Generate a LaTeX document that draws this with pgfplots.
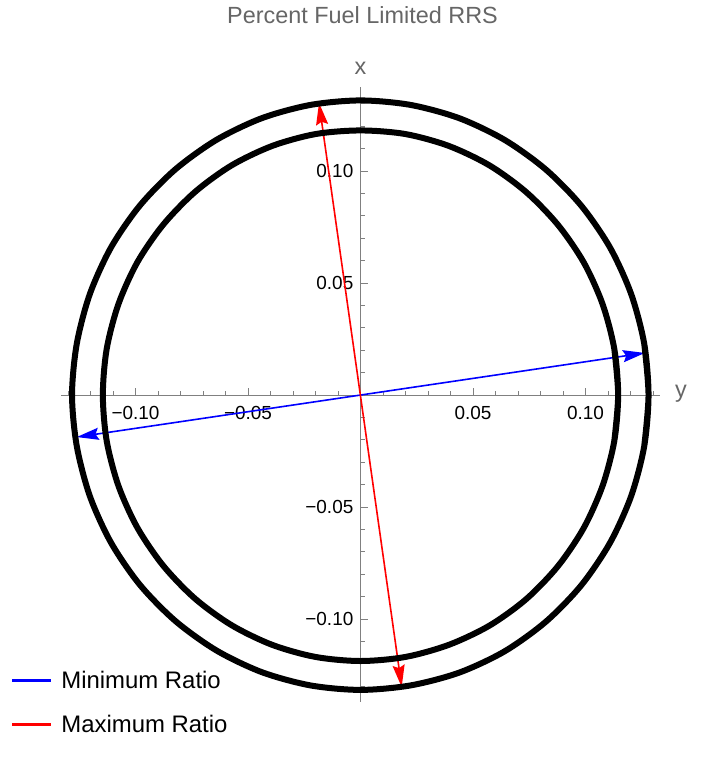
\documentclass[border=0pt]{standalone}
\usepackage{fontspec}
\setmainfont{Liberation Sans}
\usepackage{pgfplots}
\pgfplotsset{compat=1.18}
\usetikzlibrary{arrows.meta}
\definecolor{axgray}{gray}{0.5}
\definecolor{labgray}{gray}{0.4}
\begin{document}
\begin{tikzpicture}
\path (0,0) rectangle (720bp,762bp);
\begin{axis}[
  at={(61bp,60bp)}, anchor=south west,
  scale only axis, width=599bp, height=615bp,
  xmin=-0.1331, xmax=0.1331, ymin=-0.1371, ymax=0.1375,
  axis lines=middle,
  axis line style={axgray, line width=0.8bp, -},
  tick style={axgray, line width=0.8bp},
  tick align=inside,
  major tick length=7bp, minor tick length=4bp,
  xtick={-0.1,-0.05,0.05,0.1}, xticklabels={−0.10,−0.05,0.05,0.10},
  ytick={-0.1,-0.05,0.05,0.1}, yticklabels={−0.10,−0.05,0.05,0.10},
  minor xtick={-0.13,-0.12,-0.11,-0.09,-0.08,-0.07,-0.06,-0.04,-0.03,-0.02,-0.01,0.01,0.02,0.03,0.04,0.06,0.07,0.08,0.09,0.11,0.12,0.13},
  minor ytick={-0.13,-0.12,-0.11,-0.09,-0.08,-0.07,-0.06,-0.04,-0.03,-0.02,-0.01,0.01,0.02,0.03,0.04,0.06,0.07,0.08,0.09,0.11,0.12,0.13},
  ticklabel style={font=\fontsize{19}{22}\selectfont, text=black, inner sep=0pt},
  xticklabel style={anchor=north, yshift=-11bp},
  yticklabel style={anchor=east, xshift=-7bp},
  xlabel={y}, ylabel={x},
  every axis x label/.style={at={(axis cs:0.1331,0)}, anchor=mid west, xshift=15bp, inner sep=0pt, font=\fontsize{23.5}{26}\selectfont, text=labgray},
  every axis y label/.style={at={(axis cs:0,0.1375)}, anchor=base, yshift=12bp, inner sep=0pt, font=\fontsize{23.5}{26}\selectfont, text=labgray},
  title={Percent Fuel Limited RRS},
  every axis title/.style={at={(axis description cs:0.5,1)}, anchor=base, xshift=2bp, yshift=63bp, inner sep=0pt, font=\fontsize{23.5}{26}\selectfont, text=labgray},
  legend style={at={(axis description cs:-0.0818,0.0504)}, anchor=north west, draw=none, fill=none, inner sep=0pt, outer sep=0pt, row sep=25bp, column sep=11bp, nodes={inner sep=0pt}, font=\fontsize{24}{27}\selectfont},
  legend cell align=left,
]
\addplot[blue, line width=1.6bp, {Stealth[length=22bp, width=12bp, inset=3bp]}-{Stealth[length=22bp, width=12bp, inset=3bp]}, forget plot] coordinates {(-0.1261,-0.0188) (0.1264,0.01875)};
\addplot[red, line width=1.6bp, {Stealth[length=22bp, width=12bp, inset=3bp]}-{Stealth[length=22bp, width=12bp, inset=3bp]}, forget plot] coordinates {(0.0183,-0.1304) (-0.01844,0.1304)};
% outer curve
\addplot[black, line width=6bp, line join=round, smooth, forget plot] coordinates {
(0.1261,-0.0228) (0.1280,0) (0.1261,0.0228) (0.1203,0.0450) (0.1109,0.0658) (0.0981,0.0845) (0.0823,0.1007) (0.0640,0.1139) (0.0438,0.1236) (0.0222,0.1295) (0,0.1315)
(-0.0222,0.1295) (-0.0438,0.1236) (-0.0640,0.1139) (-0.0823,0.1007) (-0.0981,0.0845) (-0.1109,0.0658) (-0.1203,0.0450) (-0.1261,0.0228) (-0.1282,0)
(-0.1261,-0.0228) (-0.1203,-0.0451) (-0.1109,-0.0659) (-0.0981,-0.0847) (-0.0823,-0.1009) (-0.0640,-0.1141) (-0.0438,-0.1238) (-0.0222,-0.1297) (0,-0.1317)
(0.0222,-0.1297) (0.0438,-0.1240) (0.0640,-0.1145) (0.0823,-0.1013) (0.0981,-0.0850) (0.1109,-0.0660) (0.1203,-0.0451) (0.1261,-0.0228) (0.1280,0) (0.1261,0.0228)
};
% inner curve
\addplot[black, line width=6bp, line join=round, smooth, forget plot] coordinates {
(0.1128,-0.0205) (0.1145,0) (0.1128,0.0205) (0.1076,0.0405) (0.0992,0.0592) (0.0877,0.0760) (0.0736,0.0906) (0.0573,0.1025) (0.0392,0.1112) (0.0199,0.1165) (0,0.1181)
(-0.0199,0.1165) (-0.0392,0.1112) (-0.0573,0.1025) (-0.0736,0.0906) (-0.0877,0.0760) (-0.0992,0.0592) (-0.1076,0.0405) (-0.1128,0.0205) (-0.1145,0)
(-0.1128,-0.0205) (-0.1076,-0.0405) (-0.0992,-0.0592) (-0.0877,-0.0762) (-0.0736,-0.0909) (-0.0573,-0.1028) (-0.0392,-0.1116) (-0.0199,-0.1170) (0,-0.1188)
(0.0199,-0.1170) (0.0392,-0.1116) (0.0573,-0.1030) (0.0736,-0.0912) (0.0877,-0.0765) (0.0992,-0.0594) (0.1076,-0.0405) (0.1128,-0.0205) (0.1145,0) (0.1128,0.0205)
};
\addlegendimage{legend image code/.code={\fill[blue] (0bp,-0.9bp) rectangle (38bp,0.9bp);}}
\addlegendentry{Minimum Ratio}
\addlegendimage{legend image code/.code={\fill[red] (0bp,-0.9bp) rectangle (38bp,0.9bp);}}
\addlegendentry{Maximum Ratio}
\end{axis}
\end{tikzpicture}
\end{document}
